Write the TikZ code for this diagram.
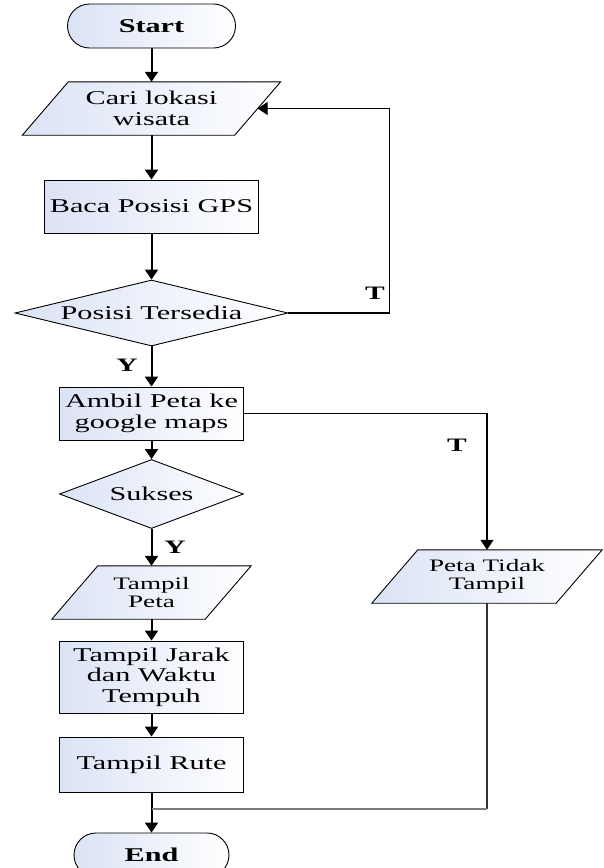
\documentclass[tikz,border=0pt]{standalone}
\usepackage{fontspec}
\setmainfont{Liberation Serif}[FakeStretch=1.55]
\usetikzlibrary{shapes.geometric, arrows.meta, backgrounds}
\definecolor{boxblue}{RGB}{218,227,245}
\definecolor{linkgray}{RGB}{125,125,125}

\begin{document}
\begin{tikzpicture}[x=1pt, y=-1pt]

\def\ax{151.5}    % x of the main column
\def\ioslant{23}  % half the slant of the input/output boxes
\def\loopdx{101}  % length of the loop back line out of the decision

\tikzset{shapefill/.style = {draw, line width=0.9pt, left color=boxblue, right color=white}}
\tikzset{txt/.style = {font=\fontsize{19.5}{20.5}\selectfont, align=center, inner sep=0pt}}
\tikzset{txtsmall/.style = {font=\fontsize{17.5}{18.5}\selectfont}}
\tikzset{terminal/.style = {shapefill, txt, font=\fontsize{19.5}{20}\selectfont\bfseries,
                            rounded corners=22pt, minimum width=#1, minimum height=44pt}}
\tikzset{process/.style = {shapefill, txt, minimum width=#1, minimum height=53pt}}
\tikzset{decision/.style = {shapefill, txt, diamond, aspect=#1}}
\tikzset{inout/.style = {txt, minimum width=#1, minimum height=53pt}}
\tikzset{flow/.style = {line width=2pt, -{Triangle[width=13pt, length=10pt]}}}
\tikzset{branch/.style = {font=\fontsize{19}{20}\selectfont\bfseries, inner sep=0pt}}

\useasboundingbox (0,0) rectangle (604,868);

% boxes of the flow
\node[terminal=168pt] (start) at (\ax,26) {Start};
\node[inout=212pt] (cari) at (\ax,108.5) {Cari lokasi\\wisata};
\node[process=214pt] (baca) at (\ax,206.5) {Baca Posisi GPS};
\node[decision=4.14, minimum width=273pt, minimum height=66pt] (posisi) at (\ax,313) {Posisi Tersedia};
\node[process=184pt] (ambil) at (\ax,413.5) {Ambil Peta ke\\google maps};
\node[decision=2.67, minimum width=184pt, minimum height=69pt] (sukses) at (\ax,494) {Sukses};
\node[inout=153pt, txtsmall] (peta) at (\ax,592.5) {Tampil\\Peta};
\node[inout=184pt, txtsmall] (tidak) at (487,576.5) {Peta Tidak\\Tampil};
\node[process=184pt, minimum height=72pt] (jarak) at (\ax,677) {Tampil Jarak\\dan Waktu\\Tempuh};
\node[process=184pt, minimum height=55pt] (rute) at (\ax,764.5) {Tampil Rute};
\node[terminal=155pt] (end) at (\ax,855) {End};

% slanted outlines of the input/output boxes
\begin{scope}[on background layer]
\foreach \n in {cari, peta, tidak}
  \draw[shapefill] ([xshift=\ioslant pt]\n.north west) -- ([xshift=\ioslant pt]\n.north east)
      -- ([xshift=-\ioslant pt]\n.south east) -- ([xshift=-\ioslant pt]\n.south west) -- cycle;
\end{scope}

% main column
\draw[flow] (start.south) -- (cari.north);
\draw[flow] (cari.south) -- (baca.north);
\draw[flow] (baca.south) -- (posisi.north);
\draw[flow] (posisi.south) -- (ambil.north);
\draw[flow] (ambil.south) -- (sukses.north);
\draw[flow] (sukses.south) -- (peta.north);
\draw[flow] (peta.south) -- (jarak.north);
\draw[flow] (jarak.south) -- (rute.north);
\draw[flow] (rute.south) -- (end.north);

% side branches
\draw[flow, line width=1.4pt] (posisi.east) -- ++(\loopdx,0) |- (cari.east);
\draw[flow, line width=1.4pt] (ambil.east) -| (tidak.north);
\coordinate (merge) at (\ax,809);
\draw[line width=1.4pt, black!80] (tidak.south) -- (tidak.south |- merge);
\draw[line width=1.4pt, linkgray] (tidak.south |- merge) -- (merge);

% answers
\node[branch] (tposisi) at (375,293) {T};
\node[branch] (yposisi) at (127,365) {Y};
\node[branch] (tsukses) at (457,445) {T};
\node[branch] (ysukses) at (175,547) {Y};

\end{tikzpicture}
\end{document}
